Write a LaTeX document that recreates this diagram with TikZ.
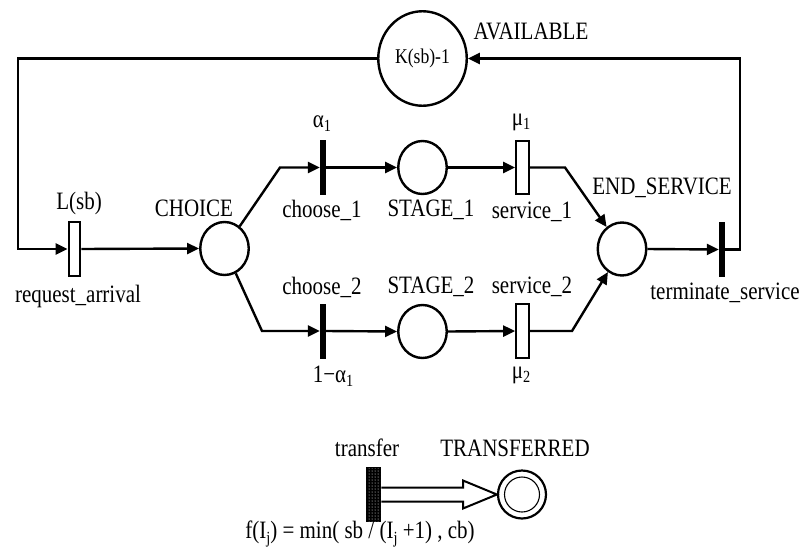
\documentclass[tikz,border=0pt]{standalone}
\usepackage{fontspec}
\setmainfont{Liberation Serif}[FakeStretch=0.84]
\usetikzlibrary{arrows.meta,shapes.geometric,patterns}
\newcommand\lowsub[1]{\raisebox{-0.35ex}{\fontsize{17}{20}\selectfont #1}}
\begin{document}
\begin{tikzpicture}[x=1pt,y=-1pt,
  lab/.style={inner sep=0pt, font=\fontsize{25}{30}\selectfont},
  place/.style={ellipse, draw, line width=2.4pt, minimum width=48.5pt, minimum height=53pt, inner sep=0pt},
  timed/.style={rectangle, draw, line width=2.2pt, minimum width=11.5pt, minimum height=53.5pt, inner sep=0pt},
  immed/.style={rectangle, fill=black, minimum width=6pt, minimum height=55pt, inner sep=0pt},
  arc/.style={line width=2.4pt},
  arr/.style={arc, -{Triangle[length=12pt,width=11pt]}}]
\useasboundingbox (0,0) rectangle (806,555);

% places and transitions
\node[place, minimum width=88.5pt, minimum height=94.5pt, font=\fontsize{21}{25}\selectfont] (avail) at (422.5,58.5) {K(sb)-1};
\node[timed] (req) at (74.5,249) {};
\node[place] (choice) at (224.5,248.5) {};
\node[immed] (ch1) at (323,167.5) {};
\node[place] (st1) at (422.5,167.5) {};
\node[timed, minimum width=12.5pt] (sv1) at (522.5,167.5) {};
\node[immed] (ch2) at (323,331) {};
\node[place] (st2) at (422.5,331.5) {};
\node[timed, minimum width=12.5pt] (sv2) at (522.5,331) {};
\node[place] (endsv) at (622,249) {};
\node[immed] (term) at (722,249.5) {};

% labels
\node[lab] (lavail) at (531,31) {AVAILABLE};
\node[lab] (llsb) at (79,203) {L(sb)};
\node[lab] (lreq) at (78,296) {request\_arrival};
\node[lab] (lchoice) at (194,208) {CHOICE};
\node[lab] (la1) at (322,124) {α\lowsub{1}};
\node[lab] (lch1) at (322,210) {choose\_1};
\node[lab] (lst1) at (431,210) {STAGE\_1};
\node[lab] (lsv1) at (532,212) {service\_1};
\node[lab] (lm1) at (521,122) {μ\lowsub{1}};
\node[lab] (lend) at (662,188) {END\_SERVICE};
\node[lab] (lterm) at (725,293) {terminate\_service};
\node[lab] (lch2) at (322,287) {choose\_2};
\node[lab] (lst2) at (431,287) {STAGE\_2};
\node[lab] (lsv2) at (532,287) {service\_2};
\node[lab] (la2) at (333,376) {1−α\lowsub{1}};
\node[lab] (lm2) at (521,375) {μ\lowsub{2}};

% connectors
\coordinate (bl) at (18,249);
\coordinate (br) at (740,249.5);
\coordinate (u1) at (280,167.5);
\coordinate (u2) at (565,167.5);
\coordinate (d1) at (262,331);
\coordinate (d2) at (572,331);
\draw[arr] (avail.west) -| (bl) -- (req.west);
\draw[arr] (req.east) -- (choice.west);
\draw[arr] (choice) -- (u1) -- (ch1.west);
\draw[arr] (ch1.east) -- (st1.west);
\draw[arr] (st1.east) -- (sv1.west);
\draw[arr] (sv1.east) -- (u2) -- (endsv);
\draw[arr] (choice) -- (d1) -- (ch2.west);
\draw[arr] (ch2.east) -- (st2.west);
\draw[arr] (st2.east) -- (sv2.west);
\draw[arr] (sv2.east) -- (d2) -- (endsv);
\draw[arr] (endsv.east) -- (term.west);
\draw[arr] (term.east) -- (br) |- (avail.east);

% transfer part
\node[draw, line width=1.5pt, fill=black, minimum width=14pt, minimum height=53pt, inner sep=0pt,
      postaction={pattern=dots, pattern color=white}] (tr) at (373.5,494.5) {};
\node[circle, draw, line width=2.2pt, minimum size=48pt, inner sep=0pt] (tfd) at (522,494.5) {};
\node[circle, draw, line width=1.1pt, minimum size=35pt, inner sep=0pt] (tfdin) at (tfd) {};
\coordinate (hb) at (463,494.5);
\draw[line width=2pt, line join=miter] ([yshift=7pt]tr.east) -- ([yshift=7pt]hb) -- ([yshift=14pt]hb)
  -- (tfd.west) -- ([yshift=-14pt]hb) -- ([yshift=-7pt]hb) -- ([yshift=-7pt]tr.east);
\node[lab] (ltr) at (367,448) {transfer};
\node[lab] (ltfd) at (515,448) {TRANSFERRED};
\node[lab] (lf) at (360,534) {f(I\lowsub{j}) = min( sb / (I\lowsub{j} +1) , cb)};
\end{tikzpicture}
\end{document}
